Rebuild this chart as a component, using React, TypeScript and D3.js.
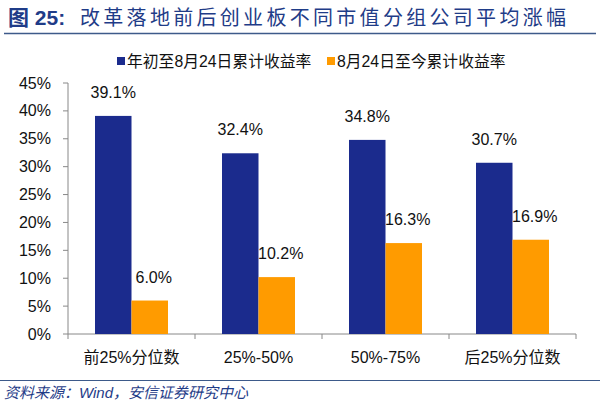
import React from "react";
import * as d3 from "d3";

const categories = ["前25%分位数", "25%-50%", "50%-75%", "后25%分位数"];
const seriesNames = ["年初至8月24日累计收益率", "8月24日至今累计收益率"];
const ytdValues = [39.1, 32.4, 34.8, 30.7];
const sinceValues = [6.0, 10.2, 16.3, 16.9];
const yTicks = [0, 5, 10, 15, 20, 25, 30, 35, 40, 45];

const W = 600, H = 403;
const colors = ["#1b2b8d", "#ff9b00"];
const font = "'Liberation Sans', Arial, 'Noto Sans CJK SC', sans-serif";

export default function App() {
  const x = d3.scaleBand<string>().domain(categories).range([68, 576]).paddingInner(0).paddingOuter(0);
  const y = d3.scaleLinear().domain([0, 45]).range([334, 83]);
  const barW = 36.5;
  const series = [ytdValues, sinceValues];
  const boundaries = [...categories.map((c) => x(c)!), 576];
  return (
    <svg width={W} height={H} style={{ position: "absolute", left: 0, top: 0, background: "#fff" }}>
      <text x={8} y={25} fontFamily={font} fontSize={21} fontWeight="bold" fill="#1f3c88">图 25:</text>
      <text x={80} y={25} fontFamily="'Noto Sans CJK SC', sans-serif" fontSize={20} fill="#1f3c88" letterSpacing={3.3}>改革落地前后创业板不同市值分组公司平均涨幅</text>
      <line x1={4} x2={596} y1={33.5} y2={33.5} stroke="#3d5a8a" strokeWidth={1.5} />

      {seriesNames.map((s, i) => {
        const lx = i === 0 ? 117 : 327;
        return (
          <g key={s}>
            <rect x={lx} y={57} width={8} height={8} fill={colors[i]} />
            <text x={lx + 10} y={67} fontFamily={font} fontSize={15.8} fill="#111">{s}</text>
          </g>
        );
      })}

      <line x1={68} x2={68} y1={83} y2={334} stroke="#888" />
      {yTicks.map((t) => (
        <g key={t}>
          <line x1={63} x2={68} y1={y(t)} y2={y(t)} stroke="#888" />
          <text x={51} y={y(t)} dy="0.35em" textAnchor="end" fontFamily={font} fontSize={16} fill="#111">{t}%</text>
        </g>
      ))}
      <line x1={68} x2={576} y1={334} y2={334} stroke="#888" />
      {boundaries.map((b, i) => (
        <line key={i} x1={b} x2={b} y1={334} y2={339} stroke="#888" />
      ))}

      {categories.map((c, ci) => {
        const cx = x(c)! + x.bandwidth() / 2;
        return (
          <g key={c}>
            {series.map((vals, si) => {
              const bx = cx - barW + si * barW;
              return (
                <g key={si}>
                  <rect x={bx} y={y(vals[ci])} width={barW} height={334 - y(vals[ci])} fill={colors[si]} />
                  <text x={bx + barW / 2 + (si === 1 ? 4 : 0)} y={y(vals[ci]) - 18} textAnchor="middle" fontFamily={font} fontSize={16} fill="#111">{vals[ci].toFixed(1)}%</text>
                </g>
              );
            })}
            <text x={cx} y={363} textAnchor="middle" fontFamily={font} fontSize={16} fill="#111">{c}</text>
          </g>
        );
      })}

      <line x1={0} x2={600} y1={380.5} y2={380.5} stroke="#3d5a8a" strokeWidth={1.2} />
      <text x={4} y={398} fontFamily={font} fontSize={15} fontStyle="italic" fill="#1f3c88">资料来源：Wind，安信证券研究中心</text>
    </svg>
  );
}
